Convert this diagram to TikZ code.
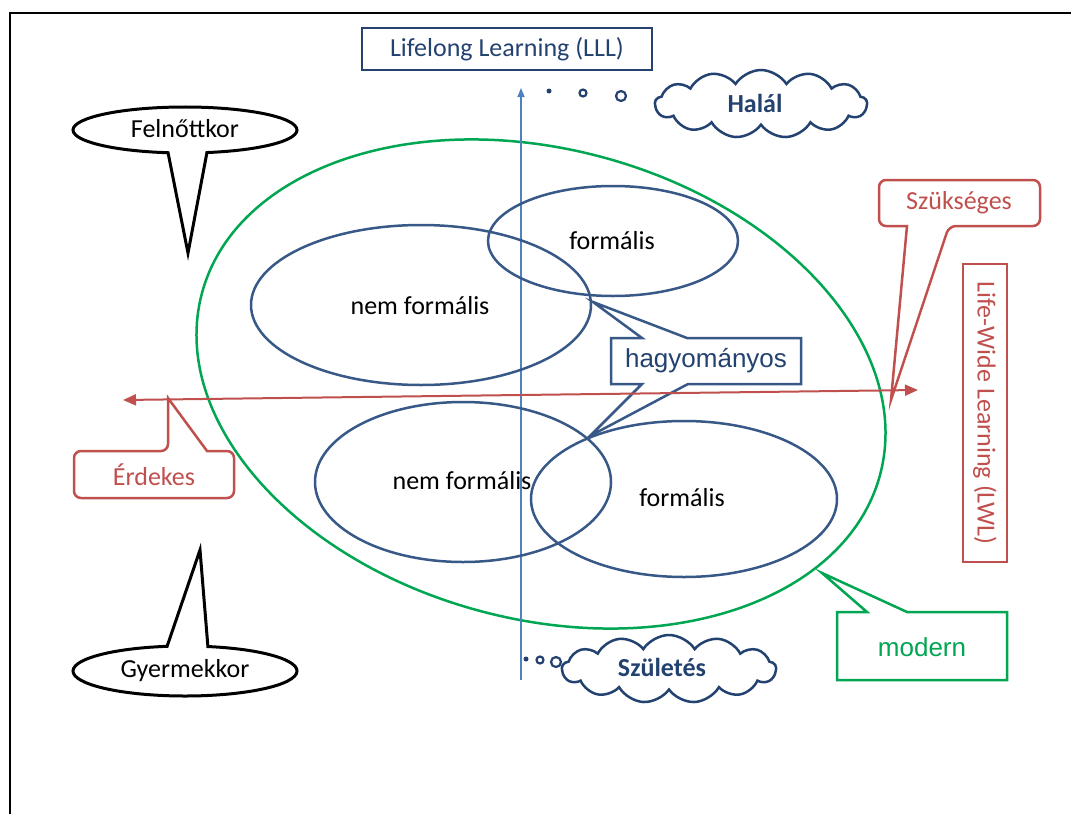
\documentclass[tikz,border=0pt]{standalone}
\usepackage{fontspec}
\setmainfont{Carlito}
\newfontfamily\arialf{Liberation Sans}
\usetikzlibrary{shapes.geometric,shapes.symbols,arrows.meta}
\definecolor{eblue}{RGB}{56,88,135}
\definecolor{tblue}{RGB}{36,66,112}
\definecolor{axblue}{RGB}{79,129,189}
\definecolor{cred}{RGB}{192,80,77}
\definecolor{cgreen}{RGB}{0,166,81}
\begin{document}
\begin{tikzpicture}[x=1pt,y=-1pt,
  lab/.style={font=\fontsize{26}{30}\selectfont, inner sep=0pt},
  blueell/.style={ellipse, draw=eblue, line width=2.5pt, inner sep=0pt},
  cloudbox/.style={cloud, cloud puffs=13, cloud puff arc=115, cloud ignores aspect, draw=tblue, line width=2.5pt, fill=white, inner sep=0pt},
  dotline/.style={draw=tblue, line width=2.2pt}]
\useasboundingbox (0,0) rectangle (1071,814);
\fill[white] (0,0) rectangle (1071,814);
\draw[line width=2pt] (9.5,814) -- (9.5,12.5) -- (1071,12.5);

% green ellipse
\draw[cgreen, line width=2.5pt, rotate around={-15:(541,384)}] (541,384) ellipse [x radius=351, y radius=235];

% blue axis
\coordinate (ax0) at (521,680);
\coordinate (ax1) at (521,88);
\draw[axblue, line width=1.5pt, -{Triangle[length=9pt,width=7pt]}] (ax0) -- (ax1);

% blue ellipses
\node[blueell, minimum width=250, minimum height=110] (f1) at (613,241) {};
\node[blueell, minimum width=340, minimum height=160] (n1) at (421,305) {};
\node[blueell, minimum width=296, minimum height=160] (n2) at (463,482) {};
\node[blueell, minimum width=306, minimum height=156] (f2) at (684,499) {};
\node[lab] (tf1) at (612,241) {formális};
\node[lab] (tn1) at (420,306) {nem formális};
\node[lab] (tn2) at (462,481) {nem formális};
\node[lab] (tf2) at (682,498) {formális};

% LLL box
\node[lab, draw=tblue, line width=2.5pt, fill=white, minimum width=290, minimum height=42, text=tblue] (lll) at (507,49) {Lifelong Learning (LLL)};

% clouds
\node[cloudbox, minimum width=212, minimum height=68] (halal) at (761,104) {};
\node[lab, font=\fontsize{26}{30}\selectfont\bfseries, text=tblue] (thalal) at (755,103) {Halál};
\fill[tblue] (549,91) circle[radius=2.5];
\draw[dotline] (583,93) circle[radius=3.5];
\draw[dotline] (621,96) circle[radius=5];

\node[cloudbox, minimum width=214, minimum height=68] (szul) at (669,669) {};
\node[lab, font=\fontsize{26}{30}\selectfont\bfseries, text=tblue] (tszul) at (662,667) {Születés};
\fill[tblue] (526,659) circle[radius=2.5];
\draw[dotline] (540,660) circle[radius=3.5];
\draw[dotline] (556,662) circle[radius=5];

% Felnottkor callout
\coordinate (felc) at (185,130);
\coordinate (feltip) at (188,253);
\draw[line width=3pt, fill=white] (felc) ++(78.7:112 and 23) arc[start angle=78.7, end angle=-261.3, x radius=112, y radius=23] -- (feltip) -- cycle;
\node[lab] (fel) at (185,129) {Felnőttkor};

% Gyermekkor callout
\coordinate (gyc) at (185,671);
\coordinate (gytip) at (200,550);
\draw[line width=3pt, fill=white] (gyc) ++(-78.2:112 and 25) arc[start angle=-78.2, end angle=260.8, x radius=112, y radius=25] -- (gytip) -- cycle;
\node[lab] (gy) at (185,671) {Gyermekkor};

% hagyomanyos callout
\draw[eblue, line width=2.5pt, line join=miter] (642,338) -- (593,302) -- (687,338) -- (801,338) -- (801,384) -- (688,384) -- (590,436) -- (642,384) -- (611,384) -- (611,338) -- cycle;
\node[lab, font=\arialf\fontsize{26}{30}\selectfont, text=tblue] (hagy) at (706,361) {hagyományos};

% Szukseges callout
\draw[cred, line width=2.5pt, fill=white, rounded corners=7pt] (907,226) -- (879,226) -- (879,180) -- (1040,180) -- (1040,226) -- (949,226) [sharp corners] -- (891,400) -- cycle;
\node[lab, text=cred] (szuk) at (959,203) {Szükséges};

% Erdekes callout
\draw[cred, line width=2.5pt, fill=white, rounded corners=7pt] (207,451) -- (234,451) -- (234,498) -- (74,498) -- (74,451) -- (168,451) [sharp corners] -- (168,398) -- cycle;
\node[lab, text=cred] (erd) at (154,475) {Érdekes};

% modern callout
\draw[cgreen, line width=2.5pt, fill=white] (867,612) -- (837,612) -- (837,680) -- (1007,680) -- (1007,612) -- (907,612) -- (822,573) -- cycle;
\node[lab, font=\arialf\fontsize{26}{30}\selectfont, text=cgreen] (mod) at (922,647) {modern};

% LWL box
\node[lab, draw=cred, line width=2.5pt, minimum width=298, minimum height=44, rotate=-90, text=cred] (lwl) at (985,413) {Life-Wide Learning (LWL)};

% red axis
\coordinate (rl) at (123,400);
\coordinate (rr) at (918,390);
\draw[cred, line width=2pt, {Triangle[length=13pt,width=11pt]}-{Triangle[length=13pt,width=11pt]}] (rl) -- (rr);
\end{tikzpicture}
\end{document}
